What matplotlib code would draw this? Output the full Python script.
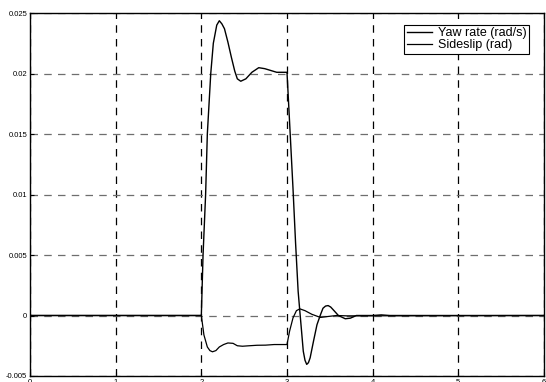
import numpy as np
import matplotlib.pyplot as plt

plt.rcParams['font.family'] = ['Liberation Sans', 'DejaVu Sans']

# values
t_yaw = [0.0, 2.0, 2.02, 2.05, 2.07, 2.11, 2.14, 2.18, 2.21, 2.24, 2.27, 2.31, 2.35,
         2.39, 2.42, 2.46, 2.52, 2.59, 2.67, 2.74, 2.81, 2.88, 2.95, 3.0, 3.03,
         3.07, 3.10, 3.13, 3.15, 3.17, 3.19, 3.21, 3.23, 3.25, 3.27, 3.31, 3.35,
         3.39, 3.42, 3.45, 3.48, 3.51, 3.54, 3.60, 3.68, 3.74, 3.81, 4.0, 4.1,
         4.2, 6.0]
yaw_rate = [0.0, 0.0, 0.005, 0.010, 0.015, 0.020, 0.0225, 0.0240, 0.02436, 0.0241,
            0.0237, 0.0226, 0.02136, 0.0202, 0.01956, 0.01936, 0.01956, 0.0201,
            0.02048, 0.0204, 0.02025, 0.0201, 0.0201, 0.0201, 0.016, 0.0105,
            0.006, 0.002, 0.00033, -0.0013, -0.00295, -0.0037, -0.00404, -0.0039,
            -0.0035, -0.0021, -0.00076, 0.00005, 0.0006, 0.00078, 0.00082, 0.0007,
            0.00047, 0.0, -0.00027, -0.00022, 0.0, 0.0, 0.00005, 0.0, 0.0]

t_slip = [0.0, 2.0, 2.03, 2.07, 2.10, 2.13, 2.17, 2.21, 2.26, 2.31, 2.37, 2.42,
          2.48, 2.56, 2.65, 2.75, 2.85, 2.97, 3.0, 3.03, 3.07, 3.11, 3.15, 3.21,
          3.29, 3.39, 3.48, 3.58, 3.70, 6.0]
sideslip = [0.0, 0.0, -0.0016, -0.0026, -0.0029, -0.0030, -0.0029, -0.0026,
            -0.0024, -0.00227, -0.0023, -0.0025, -0.00254, -0.0025, -0.00246,
            -0.00245, -0.0024, -0.0024, -0.0024, -0.0013, -0.0002, 0.0004,
            0.00055, 0.0004, 0.0001, -0.00016, -0.00008, 0.0, -0.00003, 0.0]

x_ticks = [0, 1, 2, 3, 4, 5, 6]
y_ticks = [-0.005, 0, 0.005, 0.01, 0.015, 0.02, 0.025]
y_labels = ['-0.005', '0', '0.005', '0.01', '0.015', '0.02', '0.025']

fig = plt.figure(figsize=(5.46, 3.82), dpi=100)
ax = fig.add_axes([30 / 546, 1 - 376 / 382, 514 / 546, 363 / 382])

ax.plot(t_yaw, yaw_rate, color='black', lw=1.0, label='Yaw rate (rad/s)')
ax.plot(t_slip, sideslip, color='black', lw=0.9, label='Sideslip (rad)')

ax.set_xlim(0, 6)
ax.set_ylim(-0.005, 0.025)
ax.set_xticks(x_ticks)
ax.set_xticklabels([str(v) for v in x_ticks])
ax.set_yticks(y_ticks)
ax.set_yticklabels(y_labels)
ax.tick_params(direction='in', length=3, width=0.8, labelsize=5.5, pad=2)

ax.xaxis.grid(True, color='black', linestyle=(0, (6, 5)), lw=0.9)
ax.yaxis.grid(True, color='#6e6e6e', linestyle=(0, (6, 5)), lw=0.9)
ax.set_axisbelow(True)
for s in ax.spines.values():
    s.set_linewidth(1.0)

leg = ax.legend(loc='upper right', bbox_to_anchor=(0.971, 0.967), fontsize=9,
                frameon=True, fancybox=False, framealpha=1, edgecolor='black',
                handlelength=2.0, borderpad=0.2, labelspacing=0.0,
                handletextpad=0.5, borderaxespad=0)
leg.get_frame().set_linewidth(0.8)

fig.savefig('out.png', dpi=100)
